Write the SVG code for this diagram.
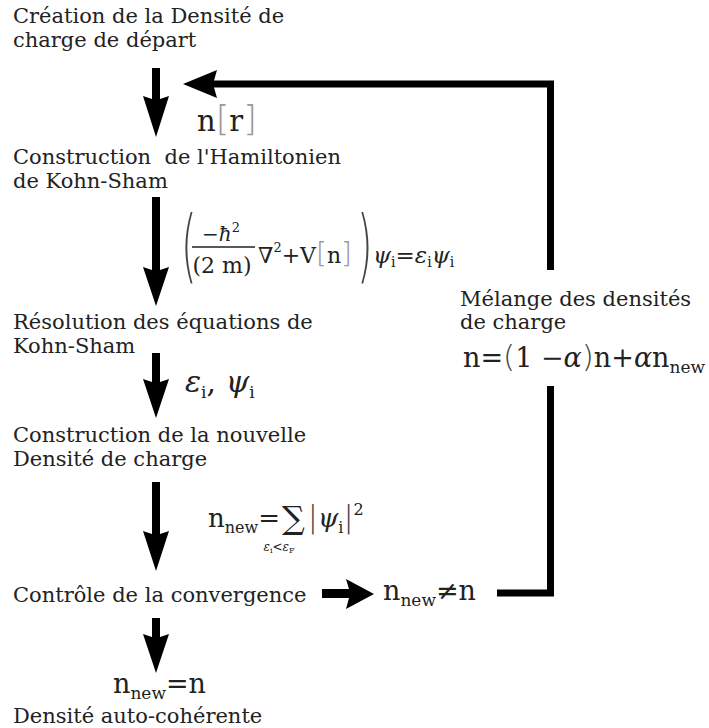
<svg xmlns="http://www.w3.org/2000/svg" width="709" height="728" viewBox="0 0 709 728">
<style>
.t{font-size:21px;fill:#222;white-space:pre}
.m{fill:#222}
.it{font-style:italic}
.br{font-family:"DejaVu Sans",sans-serif;font-weight:200;fill:#999}
.pa{font-family:"DejaVu Sans",sans-serif;font-weight:200;fill:#444}
.ar{fill:#000}
.fb{fill:none;stroke:#000;stroke-width:7}
</style>
<rect width="709" height="728" fill="#fff"/>
<g id="connectors">
<path class="ar" d="M152,68H160V99L169,96L156,137L143,96L152,99Z"/>
<path class="ar" d="M152,197H160V270L169,267L156,306L143,267L152,270Z"/>
<path class="ar" d="M152,353H160V382L169,379L156,418L143,379L152,382Z"/>
<path class="ar" d="M152,482H160V534L169,531L156,571L143,531L152,534Z"/>
<path class="ar" d="M152,618H160V637L169,634L156,673L143,634L152,637Z"/>
<path class="ar" d="M322,589V598H349L346,609L374,594L346,579L349,589Z"/>
<path class="fb" d="M497,593H550.5V386"/>
<path class="fb" d="M550.5,270V84H212"/>
<path class="ar" d="M183,84L217,70L213,84L217,98Z"/>
</g>
<g font-family="'DejaVu Serif','Liberation Serif',serif">
<g id="n1"><text class="t" x="13" y="23">Création de la Densité de</text><text class="t" x="13" y="47">charge de départ</text></g>
<g id="n2"><text class="t" x="13" y="164">Construction  de l'Hamiltonien</text><text class="t" x="13" y="188">de Kohn-Sham</text></g>
<g id="n3"><text class="t" x="13" y="329">Résolution des équations de</text><text class="t" x="13" y="353">Kohn-Sham</text></g>
<g id="n4"><text class="t" x="13" y="442">Construction de la nouvelle</text><text class="t" x="13" y="466">Densité de charge</text></g>
<g id="n5"><text class="t" x="13" y="602">Contrôle de la convergence</text></g>
<g id="n6"><text class="m" x="113" y="693" font-size="27">n<tspan font-size="17" dy="6">new</tspan><tspan dy="-6">=n</tspan></text><text class="t" x="13" y="723">Densité auto-cohérente</text></g>
<g id="n7"><text class="t" x="460" y="306">Mélange des densités</text><text class="t" x="460" y="329">de charge</text>
<text class="m" x="463" y="367" font-size="27">n=<tspan class="pa" font-size="31">(</tspan>1 −<tspan class="it">α</tspan><tspan class="pa" font-size="31">)</tspan>n+<tspan class="it">α</tspan>n<tspan font-size="17" dy="6">new</tspan></text></g>
<g id="l1"><text class="m" x="197" y="131" font-size="29">n<tspan class="br" font-size="35">[</tspan>r<tspan class="br" font-size="35">]</tspan></text></g>
<g id="l2">
<text class="pa" transform="translate(181,273) scale(0.5,1)" font-size="80">(</text>
<text class="m" x="221" y="241" font-size="20" text-anchor="middle">−<tspan class="it">ħ</tspan><tspan font-size="13" dy="-9">2</tspan></text>
<line x1="192" y1="247" x2="255" y2="247" stroke="#222" stroke-width="1.5"/>
<text class="m" x="222" y="273" font-size="22" text-anchor="middle">(2 m)</text>
<text class="m" x="258" y="263" font-size="22">∇<tspan font-size="13" dy="-11">2</tspan><tspan dy="11">+V</tspan><tspan class="br" font-size="28">[</tspan>n<tspan class="br" font-size="28">]</tspan></text>
<text class="pa" transform="translate(357,273) scale(0.5,1)" font-size="80">)</text>
<text class="m" x="373" y="263" font-size="23"><tspan class="it">ψ</tspan><tspan font-size="14" dy="4">i</tspan><tspan dy="-4">=</tspan><tspan class="it">ε</tspan><tspan font-size="14" dy="4">i</tspan><tspan class="it" dy="-4">ψ</tspan><tspan font-size="14" dy="4">i</tspan></text>
</g>
<g id="l3"><text class="m" x="185" y="392" font-size="30"><tspan class="it">ε</tspan><tspan font-size="17" dy="6">i</tspan><tspan dy="-6">, </tspan><tspan class="it">ψ</tspan><tspan font-size="17" dy="6">i</tspan></text></g>
<g id="l4"><text class="m" x="208" y="527" font-size="26">n<tspan font-size="16" dy="6">new</tspan><tspan dy="-6">=</tspan><tspan font-size="32" dy="2" dx="2">∑</tspan><tspan class="pa" font-size="30" dx="3" dy="-2">|</tspan><tspan class="it">ψ</tspan><tspan font-size="16" dy="6">i</tspan><tspan class="pa" font-size="30" dy="-6">|</tspan><tspan font-size="16" dy="-12">2</tspan></text>
<text class="m" x="279" y="551" font-size="12" text-anchor="middle"><tspan class="it">ε</tspan><tspan font-size="8" dy="2">i</tspan><tspan dy="-2">&lt;</tspan><tspan class="it">ε</tspan><tspan font-size="8" dy="2">F</tspan></text></g>
<g id="l5"><text class="m" x="383" y="600" font-size="27">n<tspan font-size="17" dy="6">new</tspan><tspan dy="-6">≠n</tspan></text></g>
</g>
</svg>
